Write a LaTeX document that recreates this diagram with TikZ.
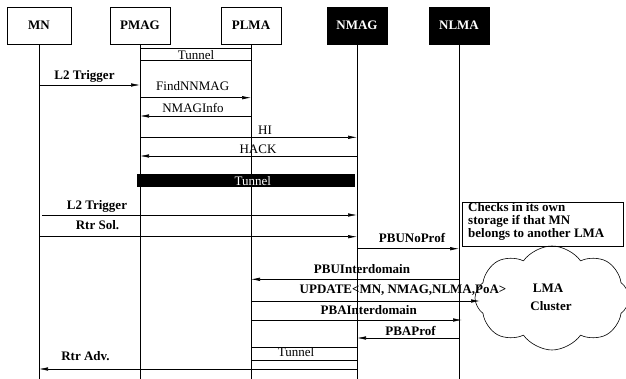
\documentclass[tikz,border=0pt]{standalone}
\usepackage{fontspec}
\setmainfont{Liberation Serif}
\usetikzlibrary{arrows.meta, shapes.symbols}

\tikzset{
  entity/.style={draw, line width=0.6pt, minimum width=60pt, minimum height=37pt, inner sep=0pt, font=\fontsize{13}{13}\selectfont\bfseries},
  newentity/.style={entity, fill=black, text=white},
  msg/.style={line width=0.6pt, -{Latex[length=9pt,width=3.5pt]}},
  lbl/.style={anchor=base, inner sep=0pt, font=\fontsize{13}{13}\selectfont\bfseries},
  plainlbl/.style={anchor=base, inner sep=0pt, font=\fontsize{13}{13}\selectfont},
}

\begin{document}
\begin{tikzpicture}[x=1pt,y=-1pt]
  \useasboundingbox (0,0) rectangle (626,379);
  \node[entity, minimum width=64pt] (mn) at (39,25.5) {MN};
  \node[entity] (pmag) at (140,25.5) {PMAG};
  \node[entity] (plma) at (251,25.5) {PLMA};
  \node[newentity] (nmag) at (357,25.5) {NMAG};
  \node[newentity] (nlma) at (459,25.5) {NLMA};
  \foreach \n in {mn,pmag,plma,nmag,nlma}
    \draw[line width=0.6pt] (\n.south) -- (\n |- 0,379);

  \draw[line width=0.6pt] (pmag |- 0,48) rectangle (plma |- 0,60);
  \node[plainlbl] (tunnelone) at (196,59.3) {Tunnel};

  \draw[msg] (mn |- 0,85) -- (pmag |- 0,85);
  \node[lbl] (trigone) at (84.5,79.5) {L2 Trigger};
  \draw[msg] (pmag |- 0,97.7) -- (plma |- 0,97.7);
  \node[plainlbl] (find) at (192.7,90.7) {FindNNMAG};
  \draw[msg] (plma |- 0,116) -- (pmag |- 0,116);
  \node[plainlbl] (info) at (193,112.7) {NMAGInfo};
  \draw[msg] (pmag |- 0,137.3) -- (nmag |- 0,137.3);
  \node[plainlbl] (hi) at (265,135) {HI};
  \draw[msg] (nmag |- 0,156) -- (pmag |- 0,156);
  \node[plainlbl] (hack) at (258,153.3) {HACK};

  \fill (137,174) rectangle (355,187.3);
  \node[plainlbl, text=white] (tunneltwo) at (252.7,186) {Tunnel};

  \draw[msg] ([xshift=3pt]mn |- 0,215) -- (nmag |- 0,215);
  \node[lbl] (trigtwo) at (97,209.3) {L2 Trigger};
  \draw[msg] (mn |- 0,236.7) -- (nmag |- 0,236.7);
  \node[lbl] (rtrsol) at (97.5,230) {Rtr Sol.};

  \node[draw, line width=0.6pt, minimum width=161pt, minimum height=44pt] (checks) at (542.5,224) {};
  \node[lbl, anchor=base west] (chkone) at (468,212) {Checks in its own};
  \node[lbl, anchor=base west] (chktwo) at (468,224.2) {storage if that MN};
  \node[lbl, anchor=base west] (chkthree) at (468,237.2) {belongs to another LMA};

  \draw[msg] (nmag |- 0,248.7) -- (nlma |- 0,248.7);
  \node[lbl] (pbunoprof) at (412,242.7) {PBUNoProf};

  \node[cloud, draw, line width=0.6pt, cloud puffs=8, cloud puff arc=110, aspect=1.5, minimum width=154pt, minimum height=104pt, inner sep=0pt] (cluster) at (552,298) {};
  \node[lbl] (lmatext) at (548,292.3) {LMA};
  \node[lbl] (clustertext) at (551,310.7) {Cluster};

  \draw[msg] (nlma |- 0,279.3) -- (plma |- 0,279.3);
  \node[lbl] (pbuinter) at (362,273.3) {PBUInterdomain};
  \coordinate (updend) at (480,301);
  \draw[msg] (plma |- 0,301) -- (updend);
  \node[lbl] (update) at (403,294) {UPDATE<MN, NMAG,NLMA,PoA>};
  \draw[msg] (plma |- 0,320) -- ([xshift=3pt]nlma |- 0,320);
  \node[lbl] (pbainter) at (368.7,314) {PBAInterdomain};
  \draw[msg] (nlma |- 0,338) -- (nmag |- 0,338);
  \node[lbl] (pbaprof) at (410.5,335) {PBAProf};

  \draw[line width=0.6pt] (plma |- 0,347.7) rectangle (nmag |- 0,360);
  \node[plainlbl] (tunnelthree) at (296,356.7) {Tunnel};

  \draw[msg] (nmag |- 0,369) -- (mn |- 0,369);
  \node[lbl] (rtradv) at (85.5,360) {Rtr Adv.};
\end{tikzpicture}
\end{document}
